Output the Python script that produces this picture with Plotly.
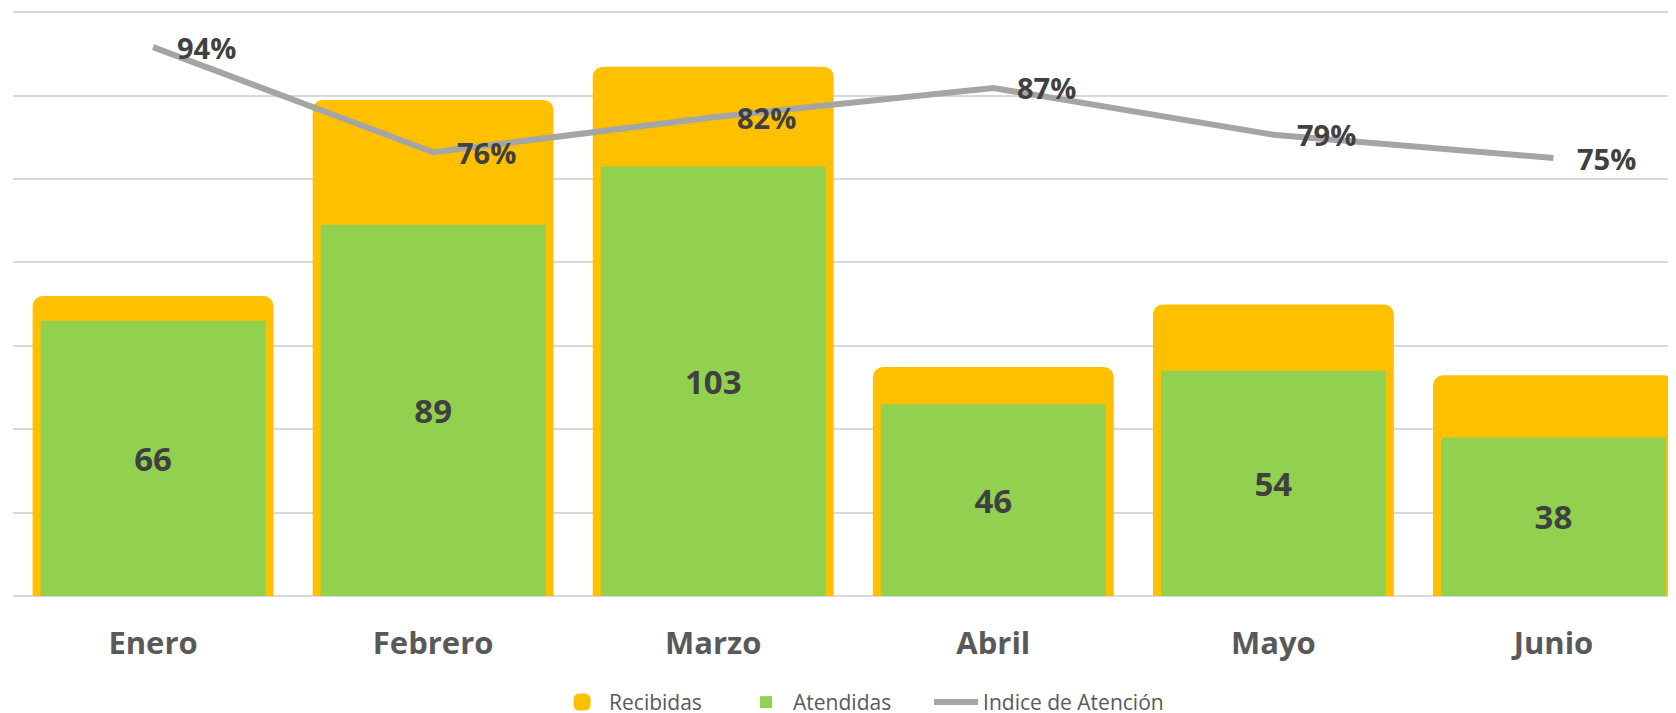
import plotly.graph_objects as go

meses = ["Enero", "Febrero", "Marzo", "Abril", "Mayo", "Junio"]
recibidas = [70, 117, 125, 53, 68, 51]
atendidas = [66, 89, 103, 46, 54, 38]
indice = [0.94, 0.76, 0.82, 0.87, 0.79, 0.75]
indice_labels = ["94%", "76%", "82%", "87%", "79%", "75%"]

ORANGE = "#FFC000"
GREEN = "#92D050"
GRAY_LINE = "#A5A5A5"
TXT_DARK = "#404040"
TXT_GRAY = "#595959"
FONT = "Open Sans"

fig = go.Figure()

fig.add_trace(go.Bar(
    x=meses, y=recibidas, name="Recibidas", width=0.803, legend="legend",
    marker=dict(color=ORANGE, line=dict(color=ORANGE, width=16), cornerradius=2),
    hoverinfo="skip",
))
fig.add_trace(go.Bar(
    x=meses, y=atendidas, name="Atendidas", width=0.803, legend="legend2",
    marker=dict(color=GREEN, line=dict(width=0)),
    texttemplate="<b>%{y}</b>", textposition="inside", insidetextanchor="middle",
    textfont=dict(family=FONT, size=33, color=TXT_DARK),
    hoverinfo="skip",
))
fig.add_trace(go.Scatter(
    x=meses, y=indice, name="Indice de Atención", yaxis="y2", mode="lines",
    legend="legend3",
    line=dict(color=GRAY_LINE, width=6),
    hoverinfo="skip",
))

for m, v, t in zip(meses, indice, indice_labels):
    fig.add_annotation(
        x=m, y=v, xref="x", yref="y2", text=f"<b>{t}</b>", showarrow=False,
        xanchor="left", yanchor="middle", xshift=22,
        font=dict(family=FONT, size=29, color=TXT_DARK),
    )

legend_common = dict(
    orientation="h", xanchor="left", y=-0.1467, yanchor="top",
    font=dict(family=FONT, size=21, color=TXT_GRAY), itemwidth=44,
    bgcolor="rgba(0,0,0,0)", borderwidth=0,
)

fig.update_layout(
    template="none",
    width=1676, height=713,
    margin=dict(l=5, r=0, t=1.9, b=125, pad=0, autoexpand=False),
    paper_bgcolor="white", plot_bgcolor="white",
    barmode="overlay", bargap=0.2,
    showlegend=True,
    legend=dict(x=0.3244, **legend_common),
    legend2=dict(x=0.4345, **legend_common),
    legend3=dict(x=0.5482, **legend_common),
    xaxis=dict(
        type="category", range=[-0.5, 5.466], showgrid=False, showline=False,
        zeroline=False, ticks="", ticklabelstandoff=26, automargin=False,
        tickfont=dict(family=FONT, size=31, color=TXT_GRAY, weight="bold"),
    ),
    yaxis=dict(
        range=[0, 140.5], dtick=20, tick0=0, showgrid=True, gridcolor="#D9D9D9", gridwidth=1.5,
        zeroline=True, zerolinecolor="#D9D9D9", zerolinewidth=1.5, showline=False,
        showticklabels=False, ticks="", automargin=False,
    ),
    yaxis2=dict(
        range=[0, 140.5 / 140], overlaying="y", side="right", showgrid=False,
        zeroline=False, showline=False, showticklabels=False, ticks="", automargin=False,
    ),
)

fig.write_html("out.html")
